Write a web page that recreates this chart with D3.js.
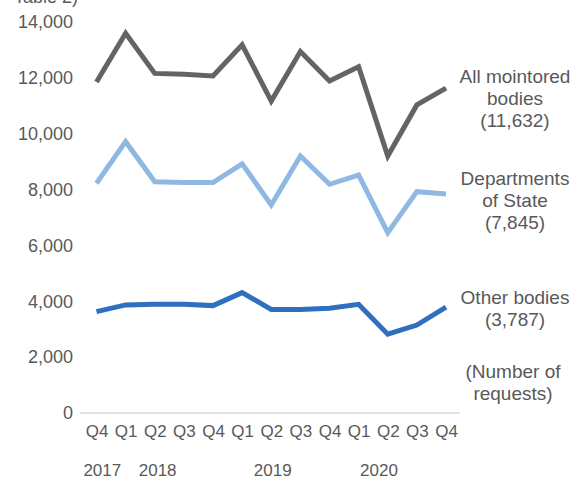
<!DOCTYPE html>
<html>
<head>
<meta charset="utf-8">
<script src="https://cdn.jsdelivr.net/npm/d3@7"></script>
<style>
	body { margin: 0; background: #fff; }
	svg text { font-family: "Liberation Sans", Arial, sans-serif; fill: #595959; }
</style>
</head>
<body>
<svg width="572" height="481"></svg>
<script>
// quarters, Q4 2017 to Q4 2020
var quarters = ["Q4", "Q1", "Q2", "Q3", "Q4", "Q1", "Q2", "Q3", "Q4", "Q1", "Q2", "Q3", "Q4"];
var years = ["2017", "2018", "2019", "2020"];
var yearAt = [0.2, 2.1, 6.05, 9.7]; // category index under which each year sits

var allBodies = [11850, 13600, 12160, 12130, 12070, 13180, 11170, 12940, 11890, 12400, 9200, 11030, 11632];
var deptsOfState = [8225, 9715, 8280, 8250, 8250, 8920, 7450, 9200, 8190, 8520, 6460, 7925, 7845];
var otherBodies = [3630, 3870, 3890, 3890, 3845, 4310, 3710, 3710, 3750, 3890, 2820, 3150, 3787];

var yTicks = [0, 2000, 4000, 6000, 8000, 10000, 12000, 14000];

var series = [
	{ name: "all", values: allBodies, color: "#646464", label: ["All mointored", "bodies", "(11,632)"], ly: 78 },
	{ name: "dept", values: deptsOfState, color: "#8fb8e3", label: ["Departments", "of State", "(7,845)"], ly: 180 },
	{ name: "other", values: otherBodies, color: "#2f6fbf", label: ["Other bodies", "(3,787)"], ly: 299 }
];

(function() {
	var svg = d3.select("svg");

	var x = d3.scalePoint()
		.domain(d3.range(quarters.length))
		.range([96.5, 446]);

	var y = d3.scaleLinear()
		.domain([0, 14000])
		.range([413, 22]);

	// title line, cut off by the top edge as in the source
	svg.append("text")
		.attr("x", 14)
		.attr("y", 3)
		.attr("font-size", 18)
		.text("Table 2)");

	// baseline
	svg.append("line")
		.attr("x1", 80).attr("x2", 460)
		.attr("y1", y(0)).attr("y2", y(0))
		.attr("stroke", "#d9d9d9")
		.attr("stroke-width", 1.3);

	var yAxis = svg.append("g")
		.attr("transform", "translate(73,0)")
		.call(d3.axisLeft(y).tickValues(yTicks).tickSize(0).tickPadding(0)
			.tickFormat(d3.format(",")));
	yAxis.select(".domain").remove();
	yAxis.selectAll("text")
		.attr("font-size", 18)
		.style("font-family", "Liberation Sans, Arial, sans-serif")
		.attr("fill", "#595959");

	var xAxis = svg.append("g")
		.attr("transform", "translate(0," + (y(0) + 12) + ")")
		.call(d3.axisBottom(x).tickSize(0).tickPadding(0)
			.tickFormat(function(i) { return quarters[i]; }));
	xAxis.select(".domain").remove();
	xAxis.selectAll("text")
		.attr("font-size", 17)
		.style("font-family", "Liberation Sans, Arial, sans-serif")
		.attr("fill", "#595959");

	var step = x.step();
	svg.selectAll(".year")
		.data(years)
		.enter().append("text")
		.attr("class", "year")
		.attr("x", function(d, i) { return x(0) + yearAt[i] * step; })
		.attr("y", 476)
		.attr("text-anchor", "middle")
		.attr("font-size", 17)
		.text(function(d) { return d; });

	var line = d3.line()
		.x(function(d, i) { return x(i); })
		.y(function(d) { return y(d); });

	svg.selectAll(".series")
		.data(series)
		.enter().append("path")
		.attr("class", "series")
		.attr("d", function(d) { return line(d.values); })
		.attr("fill", "none")
		.attr("stroke", function(d) { return d.color; })
		.attr("stroke-width", 5)
		.attr("stroke-linejoin", "miter");

	// end labels
	series.forEach(function(s) {
		var t = svg.append("text")
			.attr("x", 515)
			.attr("y", s.ly)
			.attr("text-anchor", "middle")
			.attr("font-size", 19)
			.attr("dominant-baseline", "middle");
		s.label.forEach(function(l, i) {
			t.append("tspan").attr("x", 515).attr("dy", i === 0 ? 0 : 22).text(l);
		});
	});

	var note = svg.append("text")
		.attr("x", 513)
		.attr("y", 373)
		.attr("text-anchor", "middle")
		.attr("font-size", 19)
		.attr("dominant-baseline", "middle");
	note.append("tspan").attr("x", 513).attr("dy", 0).text("(Number of");
	note.append("tspan").attr("x", 513).attr("dy", 22).text("requests)");
})();
</script>
</body>
</html>
